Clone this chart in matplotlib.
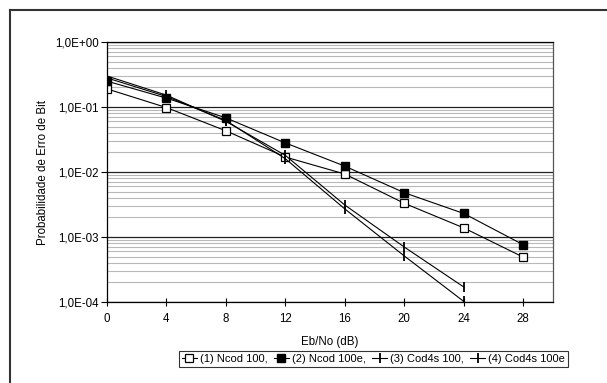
import matplotlib
matplotlib.use("Agg")
import matplotlib.pyplot as plt
from matplotlib.lines import Line2D
from matplotlib.ticker import LogLocator, FixedLocator

plt.rcParams['font.family'] = ['Liberation Sans', 'DejaVu Sans']

# Eb/No (dB)
ebno = [0, 4, 8, 12, 16, 20, 24, 28]
ebno_cod = [0, 4, 8, 12, 16, 20, 24]

ncod_100 = [0.19, 0.098, 0.043, 0.017, 0.0093, 0.0033, 0.00138, 0.00049]
ncod_100e = [0.25, 0.137, 0.068, 0.028, 0.0123, 0.0048, 0.0023, 0.00076]
cod4s_100 = [0.28, 0.145, 0.062, 0.016, 0.0027, 0.00051, 0.000102]
cod4s_100e = [0.30, 0.152, 0.060, 0.018, 0.0031, 0.0007, 0.00017]

labels = ['(1) Ncod 100,', '(2) Ncod 100e,', '(3) Cod4s 100,', '(4) Cod4s 100e']
ytick_vals = [1e-4, 1e-3, 1e-2, 1e-1, 1e0]
ytick_labels = ['1,0E-04', '1,0E-03', '1,0E-02', '1,0E-01', '1,0E+00']

fs = 8.3

fig = plt.figure(figsize=(6.07, 3.83), dpi=100)
ax = fig.add_axes([0.1763, 0.2115, 0.911 - 0.1763, 0.8903 - 0.2115])

ax.set_yscale('log')
ax.set_xlim(0, 30)
ax.set_ylim(1e-4, 1)

# grid lines
ax.yaxis.set_major_locator(FixedLocator(ytick_vals))
ax.yaxis.set_minor_locator(LogLocator(base=10, subs=range(2, 10)))
ax.grid(which='minor', axis='y', color='#b8b8b8', lw=0.8)
ax.grid(which='major', axis='y', color='#202020', lw=0.9)
ax.set_axisbelow(True)

ms_sq = 5.2
l1, = ax.plot(ebno, ncod_100, '-s', color='black', lw=0.8, ms=ms_sq,
              mfc='white', mec='black', mew=0.9)
l2, = ax.plot(ebno, ncod_100e, '-s', color='black', lw=0.8, ms=ms_sq,
              mfc='black', mec='black')
l3, = ax.plot(ebno_cod, cod4s_100, '-|', color='black', lw=0.8, ms=7, mew=1.3)
l4, = ax.plot(ebno_cod, cod4s_100e, '-|', color='black', lw=0.8, ms=7, mew=1.3)

ax.set_xticks(ebno)
ax.set_yticks(ytick_vals)
ax.set_yticklabels(ytick_labels)
ax.tick_params(axis='x', which='major', direction='inout', length=6, width=0.8,
               labelsize=fs, pad=5)
ax.tick_params(axis='y', which='major', direction='out', length=4, width=0.8,
               labelsize=fs, pad=2)
ax.tick_params(axis='y', which='minor', length=0)

for side in ['top', 'right', 'left', 'bottom']:
    ax.spines[side].set_linewidth(0.9)
    ax.spines[side].set_color('black')
ax.spines['right'].set_color('#555555')

ax.set_xlabel('Eb/No (dB)', fontsize=fs, labelpad=8)
ax.set_ylabel('Probabilidade de Erro de Bit', fontsize=fs, labelpad=4)

leg = fig.legend([l1, l2, l3, l4], labels, loc='center',
                 bbox_to_anchor=(373.5 / 607, 1 - 359 / 383), ncol=4,
                 fontsize=8.0, frameon=True, fancybox=False, edgecolor='black',
                 handlelength=1.35, handletextpad=0.25, columnspacing=0.6,
                 borderpad=0.3, borderaxespad=0)
leg.get_frame().set_linewidth(0.8)

# outer chart frame (left and top edges visible)
fig.add_artist(Line2D([10 / 607, 10 / 607], [0, 1 - 10 / 383],
                      transform=fig.transFigure, color='#333333', lw=1.5))
fig.add_artist(Line2D([10 / 607, 1], [1 - 10 / 383, 1 - 10 / 383],
                      transform=fig.transFigure, color='#333333', lw=1.5))

fig.savefig('out.png', dpi=100)
